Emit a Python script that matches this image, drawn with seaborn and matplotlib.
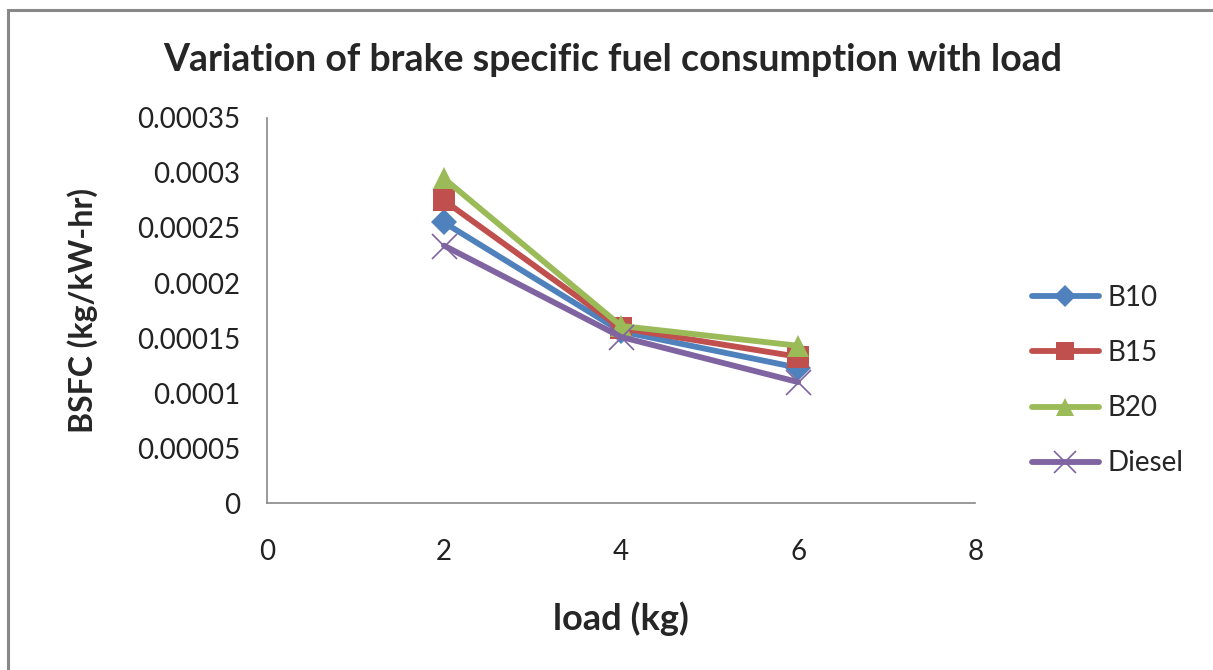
import pandas as pd
import matplotlib.pyplot as plt
import seaborn as sns
from matplotlib.patches import Rectangle

# values
load = [2, 4, 6]
b10 = [0.000255, 0.000156, 0.000123]
b15 = [0.000275, 0.000159, 0.000133]
b20 = [0.000295, 0.000161, 0.000143]
diesel = [0.000234, 0.000151, 0.000110]
series = ["B10", "B15", "B20", "Diesel"]

df = pd.DataFrame({
    "load": load * 4,
    "bsfc": b10 + b15 + b20 + diesel,
    "fuel": [s for s in series for _ in load],
})

sns.set_style("white")
plt.rcParams["font.family"] = ["Lato", "DejaVu Sans"]

colors = {"B10": "#4F81BD", "B15": "#C0504D", "B20": "#9BBB59", "Diesel": "#8064A2"}
markers = {"B10": "D", "B15": "s", "B20": "^", "Diesel": "x"}
msize = {"B10": 13, "B15": 16, "B20": 16, "Diesel": 18}

fig = plt.figure(figsize=(12.13, 6.70), dpi=100)
ax = fig.add_axes([0.220, 0.249, 0.584, 0.575])

# one call per fuel so the "x" marker can sit next to filled ones
for s in series:
    sub = df[df["fuel"] == s]
    if markers[s] == "x":
        sns.lineplot(data=sub, x="load", y="bsfc", color=colors[s], label=s,
                     marker="x", markersize=msize[s], markeredgewidth=1.2,
                     markeredgecolor=colors[s], linewidth=4.2, ax=ax)
    else:
        sns.lineplot(data=sub, x="load", y="bsfc", color=colors[s], label=s,
                     marker=markers[s], markersize=msize[s], markeredgewidth=0,
                     linewidth=4.2, ax=ax)

ax.set_xlim(0, 8)
ax.set_ylim(0, 0.00035)
ax.set_xticks([0, 2, 4, 6, 8])
yt = [0, 0.00005, 0.0001, 0.00015, 0.0002, 0.00025, 0.0003, 0.00035]
ax.set_yticks(yt)
ax.set_yticklabels(["0", "0.00005", "0.0001", "0.00015", "0.0002", "0.00025", "0.0003", "0.00035"])
ax.tick_params(axis="both", labelsize=20, colors="#222222")
ax.tick_params(axis="x", length=0, pad=26)
ax.tick_params(axis="y", length=3, pad=16, color="#888888")

for s in ["top", "right"]:
    ax.spines[s].set_visible(False)
for s in ["left", "bottom"]:
    ax.spines[s].set_color("#888888")
    ax.spines[s].set_linewidth(1.2)

ax.set_xlabel("load (kg)", fontsize=26, fontweight="bold", labelpad=26)
ax.set_ylabel("BSFC (kg/kW-hr)", fontsize=23, fontweight="bold", labelpad=28)
fig.text(0.505, 0.91, "Variation of brake specific fuel consumption with load",
         ha="center", va="center", fontsize=27, fontweight="bold")

leg = ax.legend(loc="center left", bbox_to_anchor=(1.045, 0.318), frameon=False,
                fontsize=20, labelspacing=1.05, handlelength=2.4, handletextpad=0.3)
for h in leg.legend_handles:
    h.set_markersize(h.get_markersize() * 0.85)

# chart area border (right and bottom edges fall outside the picture)
fig.patches.append(Rectangle((8 / 1213, -0.05), 1.05, 1.05 - 10 / 670,
                             transform=fig.transFigure, fill=False,
                             edgecolor="#888888", linewidth=2.2))

plt.savefig("out.png", dpi=100)
